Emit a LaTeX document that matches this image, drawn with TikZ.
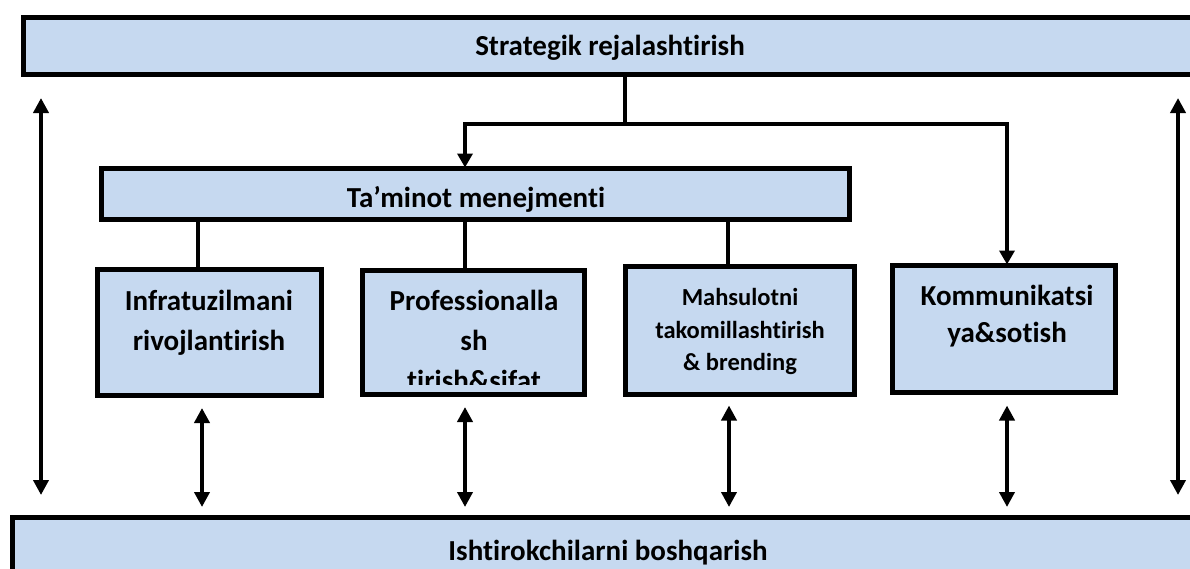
\documentclass[tikz,border=0pt]{standalone}
\usepackage{fontspec}
\setmainfont{Carlito}[RawFeature={-liga;-clig;-calt;-dlig}]
\usetikzlibrary{arrows.meta}
\definecolor{boxblue}{HTML}{C6D9F0}
\begin{document}
\begin{tikzpicture}[x=1pt,y=-1pt,
  box/.style={draw=black, line width=5pt, fill=boxblue, inner sep=0pt, outer sep=0pt},
  lbl/.style={font=\bfseries\fontsize{29}{35}\selectfont, anchor=base, inner sep=0pt},
  slbl/.style={font=\bfseries\fontsize{24.5}{30}\selectfont, anchor=base, inner sep=0pt},
  conn/.style={line width=4pt},
  arr/.style={line width=4pt, -{Triangle[width=15pt,length=14pt]}},
  dbl/.style={line width=4pt, {Triangle[width=15pt,length=15pt]}-{Triangle[width=15pt,length=15pt]}},
]
\useasboundingbox (0,0) rectangle (1190,568);
\clip (0,0) rectangle (1190,568);

% boxes
\node[box, minimum width=1206pt, minimum height=57pt] (top) at (626.5,46) {};
\node[box, minimum width=748pt, minimum height=51pt] (tm) at (475.5,194) {};
\node[box, minimum width=224pt, minimum height=126pt] (b1) at (209.5,332.5) {};
\node[box, minimum width=222pt, minimum height=124pt] (b2) at (473.5,332.5) {};
\node[box, minimum width=229pt, minimum height=128pt] (b3) at (740,330.5) {};
\node[box, minimum width=223pt, minimum height=127pt] (b4) at (1004,329) {};
\node[box, minimum width=1195pt, minimum height=80pt] (bot) at (610,557.5) {};

% labels
\node[lbl] (ttop) at (610,55) {Strategik rejalashtirish};
\node[lbl] (ttm) at (476,207) {Ta’minot menejmenti};
\node[lbl] (t1a) at (209,310) {Infratuzilmani};
\node[lbl] (t1b) at (209,350) {rivojlantirish};
\node[lbl] (t2a) at (474,310) {Professionalla};
\node[lbl] (t2b) at (474,350) {sh};
\begin{scope}
  \clip (360,270) rectangle (587,384);
  \node[lbl] (t2c) at (474,390) {tirish\&sifat};
\end{scope}
\node[slbl] (t3a) at (740,305) {Mahsulotni};
\node[slbl] (t3b) at (740,338) {takomillashtirish};
\node[slbl] (t3c) at (740,370) {\& brending};
\node[lbl] (t4a) at (1007,305) {Kommunikatsi};
\node[lbl] (t4b) at (1007,342) {ya\&sotish};
\node[lbl] (tbot) at (608,560) {Ishtirokchilarni boshqarish};

% junction coordinates
\coordinate (j) at (625,124);
\coordinate (jl) at (465,124);
\coordinate (jr) at (1007,124);
\coordinate (c1) at (198,240);
\coordinate (c2) at (465,240);
\coordinate (c3) at (728,240);
\coordinate (d1) at (202,450);
\coordinate (d2) at (465,450);
\coordinate (d3) at (729,450);
\coordinate (d4) at (1007,450);
\coordinate (sl) at (41,300);
\coordinate (sr) at (1178,300);

% connectors
\draw[conn] (top.south -| j) -- (j);
\draw[arr, shorten >=1pt] (j) -- (jl) -- (jl |- tm.north);
\draw[arr, shorten >=1pt] (j) -- (jr) -- (jr |- b4.north);
\draw[conn] (tm.south -| c1) -- (b1.north -| c1);
\draw[conn] (tm.south -| c2) -- (b2.north -| c2);
\draw[conn] (tm.south -| c3) -- (b3.north -| c3);

\draw[dbl, shorten <=12.5pt, shorten >=10.5pt] (b1.south -| d1) -- (bot.north -| d1);
\draw[dbl, shorten <=12.5pt, shorten >=10.5pt] (b2.south -| d2) -- (bot.north -| d2);
\draw[dbl, shorten <=11pt, shorten >=10.5pt] (b3.south -| d3) -- (bot.north -| d3);
\draw[dbl, shorten <=13pt, shorten >=10.5pt] (b4.south -| d4) -- (bot.north -| d4);
\draw[dbl, shorten <=23.5pt, shorten >=22.5pt] (top.south -| sl) -- (bot.north -| sl);
\draw[dbl, shorten <=23.5pt, shorten >=22.5pt] (top.south -| sr) -- (bot.north -| sr);
\end{tikzpicture}
\end{document}
